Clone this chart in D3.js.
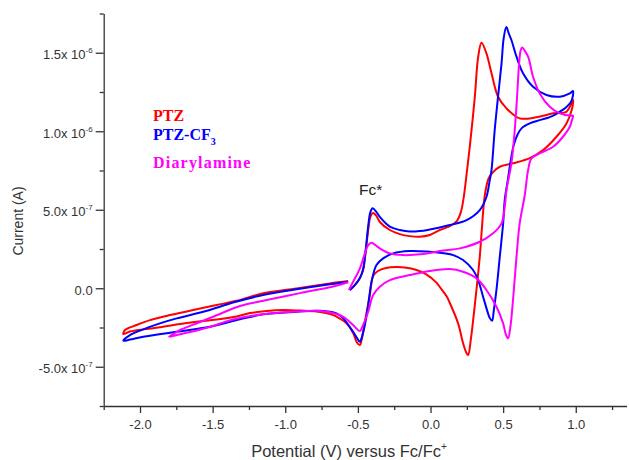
<!DOCTYPE html>
<html><head><meta charset="utf-8">
<script src="https://cdn.jsdelivr.net/npm/d3@7/dist/d3.min.js"></script>
<style>body{margin:0;background:#fff} svg{display:block;background:#fff}</style>
</head><body><svg id="c" width="629" height="460"></svg>
<script>
// Series (scan order). Potential in V vs Fc/Fc+, current in units of 1e-7 A
const seriesNames = ["PTZ", "PTZ-CF", "Diarylamine"];
const seriesColors = ["#ff0000", "#0000ff", "#ff00ff"];

const ptzPotential = [-0.555,-0.521,-0.486,-0.464,-0.445,-0.429,-0.414,-0.397,-0.372,-0.349,-0.280,-0.211,-0.143,-0.074,-0.005,0.064,0.133,0.181,0.209,0.229,0.250,0.270,0.305,0.328,0.351,0.385,0.420,0.465,0.523,0.614,0.729,0.844,0.936,0.981,
  0.972,0.936,0.867,0.775,0.683,0.568,0.477,0.431,0.401,0.374,0.353,0.339,0.305,0.277,0.259,0.248,0.224,0.190,0.133,0.110,0.064,0.041,-0.032,-0.096,-0.177,-0.234,-0.307,-0.362,-0.395,-0.418,-0.452,-0.475,-0.486,-0.507,-0.533,-0.578,-0.624,-0.670,-0.784,-0.899,-1.014,-1.128,-1.243,-1.335,-1.473,-1.610,-1.725,-1.863,-1.978,-2.069,-2.115,
  -2.103,-2.023,-1.931,-1.794,-1.634,-1.473,-1.335,-1.152,-0.922,-0.693,-0.567];
const ptzCurrent = [-0.11,0.20,0.65,1.16,2.43,3.71,4.54,4.79,4.60,4.22,3.71,3.45,3.32,3.28,3.39,3.71,3.96,4.28,4.85,5.81,7.40,8.99,12.18,14.73,15.64,14.96,13.69,12.20,11.46,10.82,10.89,11.14,11.24,11.99,
  11.35,10.50,9.65,8.80,8.29,7.96,7.74,7.40,7.02,5.94,3.71,1.99,-1.07,-3.30,-4.25,-4.13,-3.49,-2.24,-0.94,-0.50,0.08,0.36,0.90,1.16,1.32,1.35,1.29,1.10,0.78,-0.43,-2.15,-3.30,-3.62,-3.45,-2.85,-2.24,-1.93,-1.71,-1.48,-1.42,-1.39,-1.45,-1.58,-1.80,-1.99,-2.13,-2.28,-2.49,-2.62,-2.76,-2.92,
  -2.66,-2.34,-2.03,-1.71,-1.39,-1.07,-0.80,-0.32,-0.01,0.31,0.46];

const cf3Potential = [-0.555,-0.521,-0.486,-0.464,-0.445,-0.429,-0.414,-0.399,-0.372,-0.349,-0.280,-0.211,-0.143,-0.074,-0.005,0.064,0.133,0.248,0.339,0.385,0.408,0.420,0.442,0.465,0.489,0.504,0.522,0.538,0.557,0.592,0.637,0.706,0.798,0.890,0.959,0.981,
  0.970,0.936,0.876,0.821,0.752,0.683,0.628,0.601,0.573,0.553,0.532,0.511,0.500,0.477,0.454,0.436,0.424,0.408,0.396,0.362,0.328,0.293,0.224,0.156,0.064,-0.005,-0.143,-0.257,-0.326,-0.372,-0.406,-0.429,-0.452,-0.475,-0.486,-0.510,-0.533,-0.601,-0.647,-0.762,-0.922,-1.152,-1.312,-1.519,-1.748,-1.978,-2.069,-2.115,
  -2.069,-1.978,-1.863,-1.748,-1.565,-1.346,-1.152,-0.922,-0.693,-0.567];
const cf3Current = [-0.11,0.20,0.65,1.22,2.56,3.96,4.85,5.09,4.85,4.54,3.92,3.71,3.61,3.64,3.74,3.87,4.03,4.34,4.98,5.81,6.89,7.53,10.08,12.20,14.32,15.94,16.64,16.25,15.81,14.75,13.69,12.83,12.31,12.20,12.41,12.56,
  11.92,11.54,11.16,10.90,10.71,10.50,10.20,9.82,9.12,8.17,6.89,5.62,4.13,2.01,-0.11,-1.39,-2.07,-1.90,-1.60,-0.54,0.52,1.16,1.80,2.11,2.26,2.32,2.37,2.22,1.90,1.48,0.41,-1.07,-2.34,-3.19,-3.41,-3.11,-2.77,-1.92,-1.60,-1.43,-1.50,-1.66,-1.98,-2.45,-2.77,-3.09,-3.27,-3.34,
  -2.98,-2.62,-2.24,-1.92,-1.50,-0.88,-0.43,-0.07,0.25,0.41];

const diaPotential = [-0.562,-0.533,-0.486,-0.452,-0.429,-0.406,-0.376,-0.349,-0.280,-0.189,-0.051,0.087,0.202,0.339,0.431,0.489,0.511,0.523,0.557,0.580,0.596,0.610,0.621,0.630,0.646,0.672,0.706,0.752,0.821,0.890,0.970,0.981,
  0.972,0.959,0.912,0.844,0.752,0.695,0.672,0.649,0.614,0.592,0.568,0.550,0.534,0.518,0.500,0.454,0.385,0.317,0.224,0.133,-0.005,-0.143,-0.280,-0.349,-0.395,-0.429,-0.464,-0.486,-0.510,-0.533,-0.601,-0.647,-0.762,-0.920,-1.152,-1.360,-1.519,-1.656,-1.759,-1.799,
  -1.759,-1.725,-1.587,-1.450,-1.312,-1.128,-0.899,-0.670,-0.567];
const diaCurrent = [-0.11,0.41,1.27,2.22,2.75,2.90,2.72,2.54,2.22,2.11,2.18,2.40,2.54,2.96,3.50,4.13,5.19,6.25,7.96,10.08,12.20,14.32,15.17,15.34,15.17,14.75,13.47,12.41,11.56,11.14,10.99,11.00,
  10.65,10.29,9.65,9.01,8.59,8.27,7.53,5.94,4.13,2.01,-0.75,-2.45,-3.19,-2.92,-2.24,-1.18,-0.11,0.63,1.05,1.22,1.10,0.84,0.52,0.10,-0.43,-1.50,-2.34,-2.73,-2.57,-2.34,-1.82,-1.64,-1.45,-1.48,-1.66,-1.99,-2.47,-2.79,-3.01,-3.08,
  -2.85,-2.66,-2.15,-1.64,-1.13,-0.75,-0.31,0.11,0.38];

const xTicks = [-2.0, -1.5, -1.0, -0.5, 0.0, 0.5, 1.0];
const xTickLabels = ["-2.0", "-1.5", "-1.0", "-0.5", "0.0", "0.5", "1.0"];
const xMinorTicks = [-2.25, -1.75, -1.25, -0.75, -0.25, 0.25, 0.75, 1.25];
const yTicks = [-5, 0, 5, 10, 15];           // in 1e-7 A
const yTickMantissa = ["-5.0x 10", "0.0", "5.0x 10", "1.0x 10", "1.5x 10"];
const yTickExponent = ["-7", "", "-7", "-6", "-6"];
const yMinorTicks = [-7.5, -2.5, 2.5, 7.5, 12.5, 17.5];

const svg = d3.select("#c");
const font = "'Liberation Sans', Arial, sans-serif";
const x = d3.scaleLinear().domain([-2.25, 1.35]).range([103.7, 626.6]);
const y = d3.scaleLinear().domain([-7.5, 17.5]).range([406, 13.5]);

const series = [
  {p: ptzPotential, c: ptzCurrent},
  {p: cf3Potential, c: cf3Current},
  {p: diaPotential, c: diaCurrent}
];
const line = d3.line().x(d => x(d[0])).y(d => y(d[1])).curve(d3.curveCatmullRom.alpha(0.5));
series.forEach((s, i) => {
  const pts = s.p.map((v, k) => [v, s.c[k]]);
  svg.append("path").attr("d", line(pts)).attr("fill", "none")
    .attr("stroke", seriesColors[i]).attr("stroke-width", 2).attr("stroke-linejoin", "round");
});

// axes
const axisColor = "#333";
const xg = svg.append("g").attr("transform", `translate(0,${y(-7.5)})`);
xg.call(d3.axisBottom(x).tickValues(xMinorTicks).tickSize(4).tickSizeOuter(0).tickFormat(""));
const xg2 = svg.append("g").attr("transform", `translate(0,${y(-7.5)})`);
xg2.call(d3.axisBottom(x).tickValues(xTicks).tickSize(7).tickSizeOuter(0).tickFormat((d, i) => xTickLabels[i]));
xg2.select(".domain").remove();
const yg = svg.append("g").attr("transform", `translate(${x(-2.25)},0)`);
yg.call(d3.axisLeft(y).tickValues(yMinorTicks).tickSize(4).tickSizeOuter(0).tickFormat(""));
const yg2 = svg.append("g").attr("transform", `translate(${x(-2.25)},0)`);
yg2.call(d3.axisLeft(y).tickValues(yTicks).tickSize(8).tickSizeOuter(0));
yg2.select(".domain").remove();
[xg, xg2, yg, yg2].forEach(g => {
  g.selectAll("path,line").attr("stroke", axisColor).attr("stroke-width", 1.3);
  g.selectAll("text").attr("font-family", font).attr("font-size", 13).attr("fill", "#333");
});
xg2.selectAll(".tick text").attr("y", 14);
yg2.selectAll(".tick text").each(function(d, i) {
  const t = d3.select(this);
  t.text(null).attr("x", -11).attr("dy", "0.45em");
  t.append("tspan").text(yTickMantissa[i]);
  if (yTickExponent[i]) t.append("tspan").attr("dy", -6).attr("font-size", 8).text(yTickExponent[i]);
});

// axis titles
svg.append("text").attr("transform", "translate(23,221) rotate(-90)").attr("text-anchor", "middle")
  .attr("font-family", font).attr("font-size", 14).attr("fill", "#333").text("Current (A)");
const xt = svg.append("text").attr("x", 349).attr("y", 457).attr("text-anchor", "middle")
  .attr("font-family", font).attr("font-size", 16.5).attr("fill", "#333");
xt.append("tspan").text("Potential (V) versus Fc/Fc");
xt.append("tspan").attr("dy", -7).attr("font-size", 10).text("+");

// annotation
svg.append("text").attr("x", 359).attr("y", 195).attr("font-family", font).attr("font-size", 15.5)
  .attr("fill", "#222").text("Fc*");

// legend
const serif = "'Liberation Serif', 'Times New Roman', serif";
const legY = [121, 140, 168];
seriesNames.forEach((n, i) => {
  const t = svg.append("text").attr("x", 153).attr("y", legY[i]).attr("font-family", serif)
    .attr("font-weight", "bold").attr("font-size", 16).attr("fill", seriesColors[i])
    .attr("letter-spacing", i === 2 ? 1.2 : 0).text(n);
  if (i === 1) t.append("tspan").attr("dy", 5).attr("font-size", 10).text("3");
});
</script></body></html>
